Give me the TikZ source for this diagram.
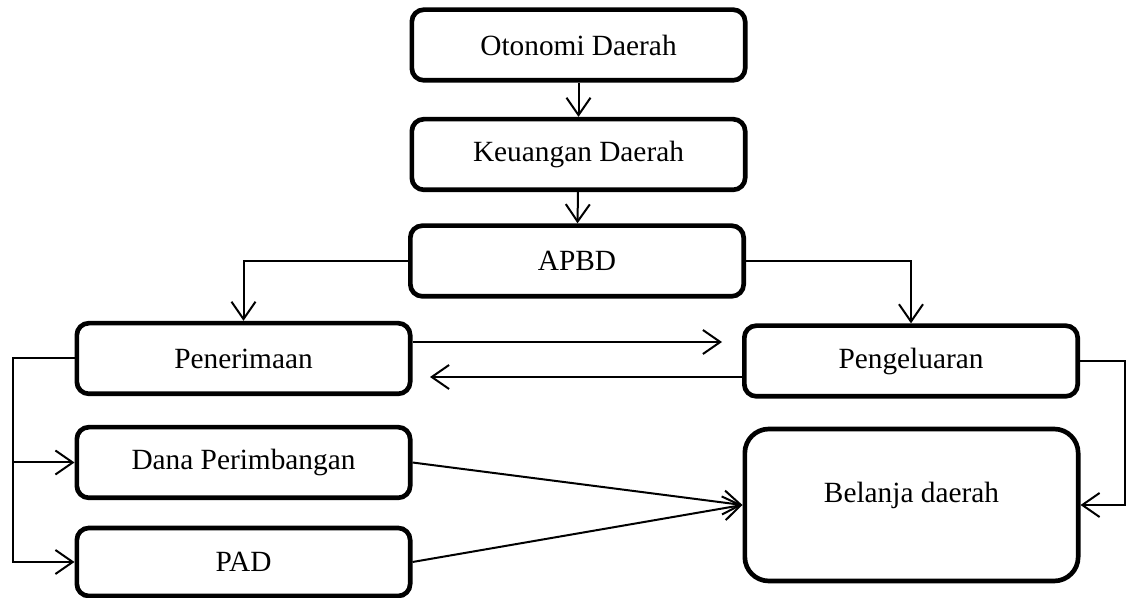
\documentclass[tikz,border=0pt]{standalone}
\usepackage{fontspec}
\setmainfont{Liberation Serif}
\usetikzlibrary{arrows.meta}
\begin{document}
\begin{tikzpicture}[x=0.75pt,y=-0.75pt,
    box/.style={draw,line width=3.5pt,rounded corners=9pt,minimum width=250pt,minimum height=53pt,font=\fontsize{22}{26}\selectfont},
    bigbox/.style={box,rounded corners=18pt,minimum height=114pt},
    arr/.style={line width=1.5pt,-{Straight Barb[length=13pt,width=18pt,line width=1.5pt]}}]
      \useasboundingbox (0,0) rectangle (1133,598);
      \draw
        (578.5,45) node[box] (otonomi){Otonomi Daerah}
        (578.5,154.5) node[box] (keuangan){Keuangan Daerah}
        (577,261) node[box] (apbd){APBD}
        (243.5,358.5) node[box] (penerimaan){Penerimaan}
        (911,361) node[box] (pengeluaran){Pengeluaran}
        (243.5,462.5) node[box] (dana){Dana Perimbangan}
        (243.5,562) node[box,minimum height=51pt] (pad){PAD}
        (911.5,505) node[bigbox] (belanja){\raisebox{19pt}{Belanja daerah}};
      \coordinate (kanan) at (722,342);
      \coordinate (kiri) at (430,377);
      \coordinate (bus) at (13,358.5);
      \begin{scope}[arr]
        \draw (otonomi) to (keuangan);
        \draw (keuangan) to (apbd);
        \draw (apbd.west) -| (penerimaan.north);
        \draw (apbd.east) -| (pengeluaran.north);
        \draw (penerimaan.east |- kanan) to (kanan);
        \draw (pengeluaran.west |- kiri) to (kiri);
        \draw (penerimaan.west) -- (bus) |- (pad.west);
        \draw (bus |- dana.west) to (dana.west);
        \draw (dana.east) to (belanja.west);
        \draw (pad.east) to (belanja.west);
        \draw (pengeluaran.east) -- ++(45,0) |- (belanja.east);
      \end{scope}
    \end{tikzpicture}
\end{document}
